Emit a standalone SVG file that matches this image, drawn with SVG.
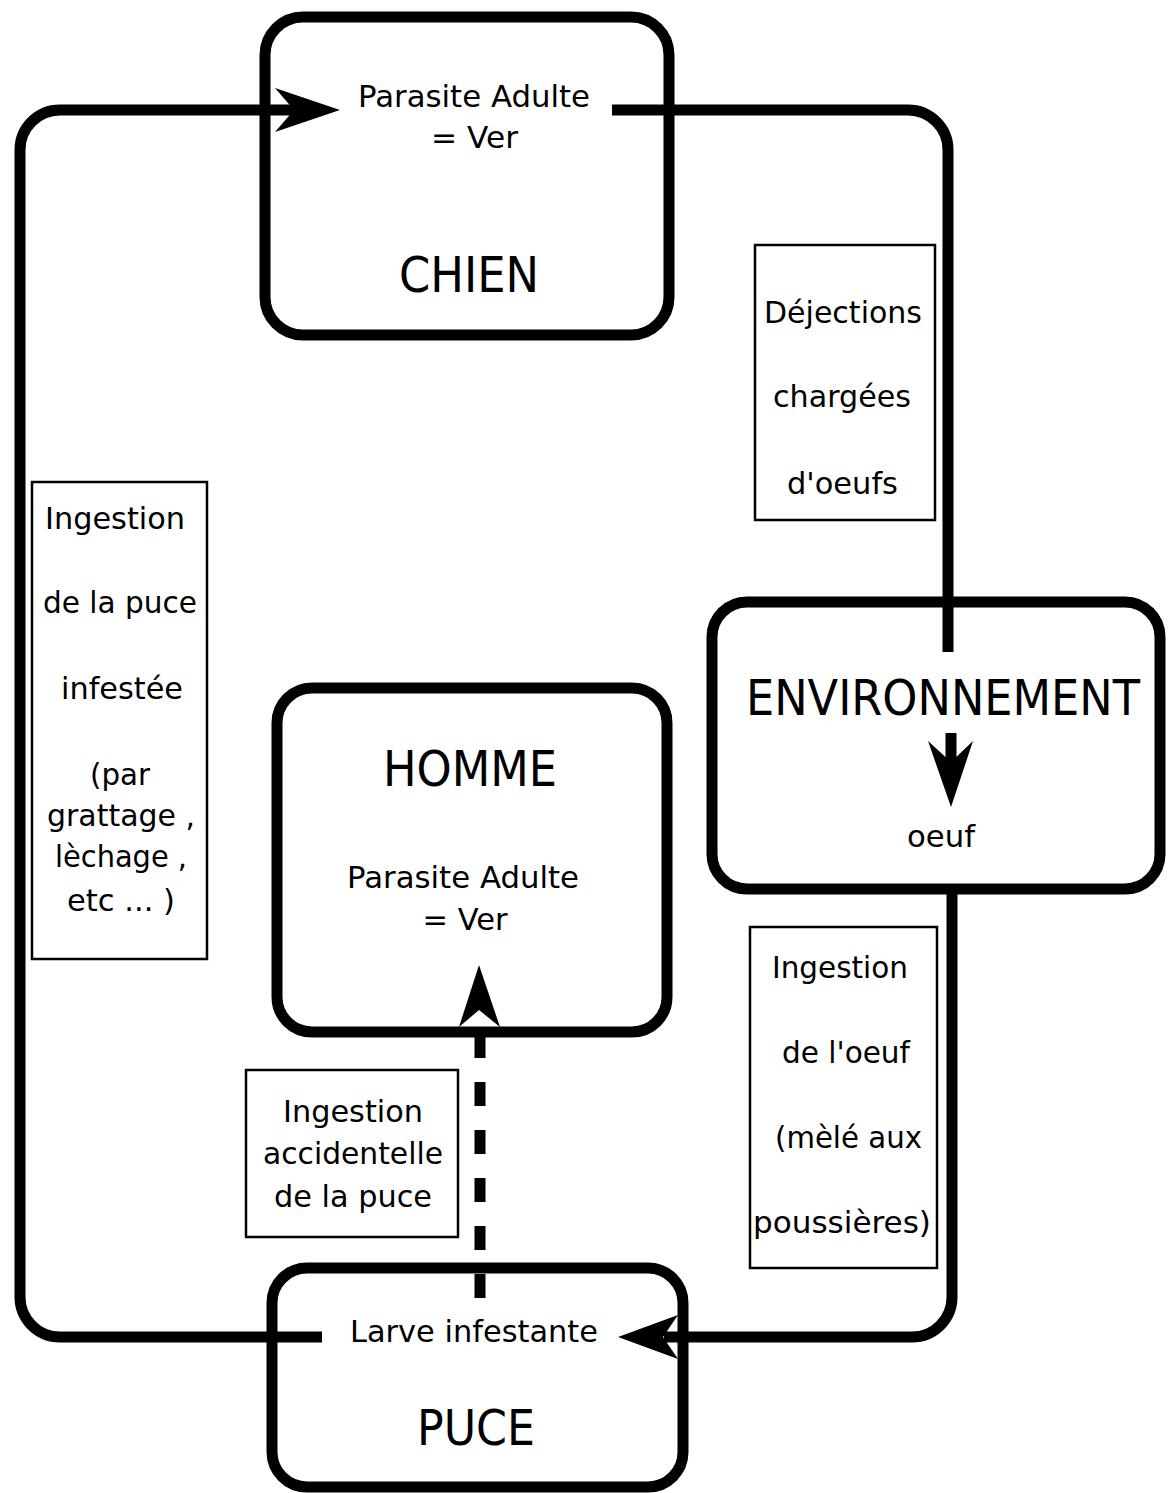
<svg xmlns="http://www.w3.org/2000/svg" width="1172" height="1493" viewBox="0 0 1172 1493">
<style>
.node{fill:#fff;stroke:#000;stroke-width:11}
.lbl{fill:none;stroke:#000;stroke-width:2.5}
.s{font-family:"DejaVu Sans",sans-serif;font-size:30px;fill:#000;text-anchor:middle}
.b{font-family:"DejaVu Sans",sans-serif;font-size:50px;fill:#000;text-anchor:middle}
.c{fill:none;stroke:#000;stroke-width:11}
.h{fill:#000;stroke:none}
</style>
<rect width="1172" height="1493" fill="#fff"/>
<g id="chien">
<rect class="node" x="265" y="17" width="404" height="318" rx="38"/>
<text class="s" x="474" y="107" textLength="232" lengthAdjust="spacingAndGlyphs">Parasite Adulte</text>
<text class="s" x="474.5" y="148" textLength="87" lengthAdjust="spacingAndGlyphs">= Ver</text>
<text class="b" x="469" y="292" textLength="140" lengthAdjust="spacingAndGlyphs">CHIEN</text>
</g>
<g id="environnement">
<rect class="node" x="712" y="602" width="448" height="287" rx="35"/>
<text class="b" x="943" y="715" textLength="394" lengthAdjust="spacingAndGlyphs">ENVIRONNEMENT</text>
<text class="s" x="941" y="847" textLength="68" lengthAdjust="spacingAndGlyphs">oeuf</text>
</g>
<g id="homme">
<rect class="node" x="277" y="688" width="390" height="344" rx="35"/>
<text class="b" x="470" y="786" textLength="174" lengthAdjust="spacingAndGlyphs">HOMME</text>
<text class="s" x="463" y="888" textLength="232" lengthAdjust="spacingAndGlyphs">Parasite Adulte</text>
<text class="s" x="465" y="930" textLength="85" lengthAdjust="spacingAndGlyphs">= Ver</text>
</g>
<g id="puce">
<rect class="node" x="272" y="1268" width="411" height="219" rx="35"/>
<text class="b" x="476" y="1445" textLength="118" lengthAdjust="spacingAndGlyphs">PUCE</text>
</g>
<g id="connectors">
<path class="c" d="M322,1337 H60 A40,40 0 0 1 20,1297 V150 A40,40 0 0 1 60,110 H296"/>
<polygon class="h" points="340,110 275,88 294,110 275,132"/>
<path class="c" d="M612,110 H908 A40,40 0 0 1 948,150 V652"/>
<path class="c" d="M952,889 V1297 A40,40 0 0 1 912,1337 H664"/>
<polygon class="h" points="618,1337 678,1315 663,1337 678,1359"/>
<path class="c" d="M951,733 V764"/>
<polygon class="h" points="951,807 928,741 951,762 973,741"/>
<path class="c" d="M480,1298 V1034" stroke-dasharray="24 24"/>
<polygon class="h" points="479,965 459,1027 479,1010 500,1027"/>
</g>
<g id="puce-label">
<text class="s" x="474" y="1342" textLength="248" lengthAdjust="spacingAndGlyphs">Larve infestante</text>
</g>
<g id="label-dejections">
<rect class="lbl" x="755" y="245" width="180" height="275"/>
<text class="s" x="843" y="323" textLength="158" lengthAdjust="spacingAndGlyphs">Déjections</text>
<text class="s" x="842" y="407" textLength="138" lengthAdjust="spacingAndGlyphs">chargées</text>
<text class="s" x="842.5" y="494" textLength="111" lengthAdjust="spacingAndGlyphs">d'oeufs</text>
</g>
<g id="label-ingestion-puce">
<rect class="lbl" x="32" y="482" width="175" height="477"/>
<text class="s" x="115" y="529" textLength="140" lengthAdjust="spacingAndGlyphs">Ingestion</text>
<text class="s" x="120" y="613" textLength="154" lengthAdjust="spacingAndGlyphs">de la puce</text>
<text class="s" x="122" y="699" textLength="122" lengthAdjust="spacingAndGlyphs">infestée</text>
<text class="s" x="120" y="785" textLength="60" lengthAdjust="spacingAndGlyphs">(par</text>
<text class="s" x="121" y="826" textLength="148" lengthAdjust="spacingAndGlyphs">grattage ,</text>
<text class="s" x="121" y="867" textLength="132" lengthAdjust="spacingAndGlyphs">lèchage ,</text>
<text class="s" x="121" y="911" textLength="108" lengthAdjust="spacingAndGlyphs">etc ... )</text>
</g>
<g id="label-accidentelle">
<rect class="lbl" x="246" y="1070" width="212" height="167"/>
<text class="s" x="353" y="1122" textLength="140" lengthAdjust="spacingAndGlyphs">Ingestion</text>
<text class="s" x="353" y="1164" textLength="180" lengthAdjust="spacingAndGlyphs">accidentelle</text>
<text class="s" x="353" y="1207" textLength="158" lengthAdjust="spacingAndGlyphs">de la puce</text>
</g>
<g id="label-oeuf">
<rect class="lbl" x="750" y="927" width="187" height="341"/>
<text class="s" x="840" y="978" textLength="136" lengthAdjust="spacingAndGlyphs">Ingestion</text>
<text class="s" x="846" y="1063" textLength="128" lengthAdjust="spacingAndGlyphs">de l'oeuf</text>
<text class="s" x="848.5" y="1148" textLength="147" lengthAdjust="spacingAndGlyphs">(mèlé aux</text>
<text class="s" x="842" y="1233" textLength="178" lengthAdjust="spacingAndGlyphs">poussières)</text>
</g>
</svg>
